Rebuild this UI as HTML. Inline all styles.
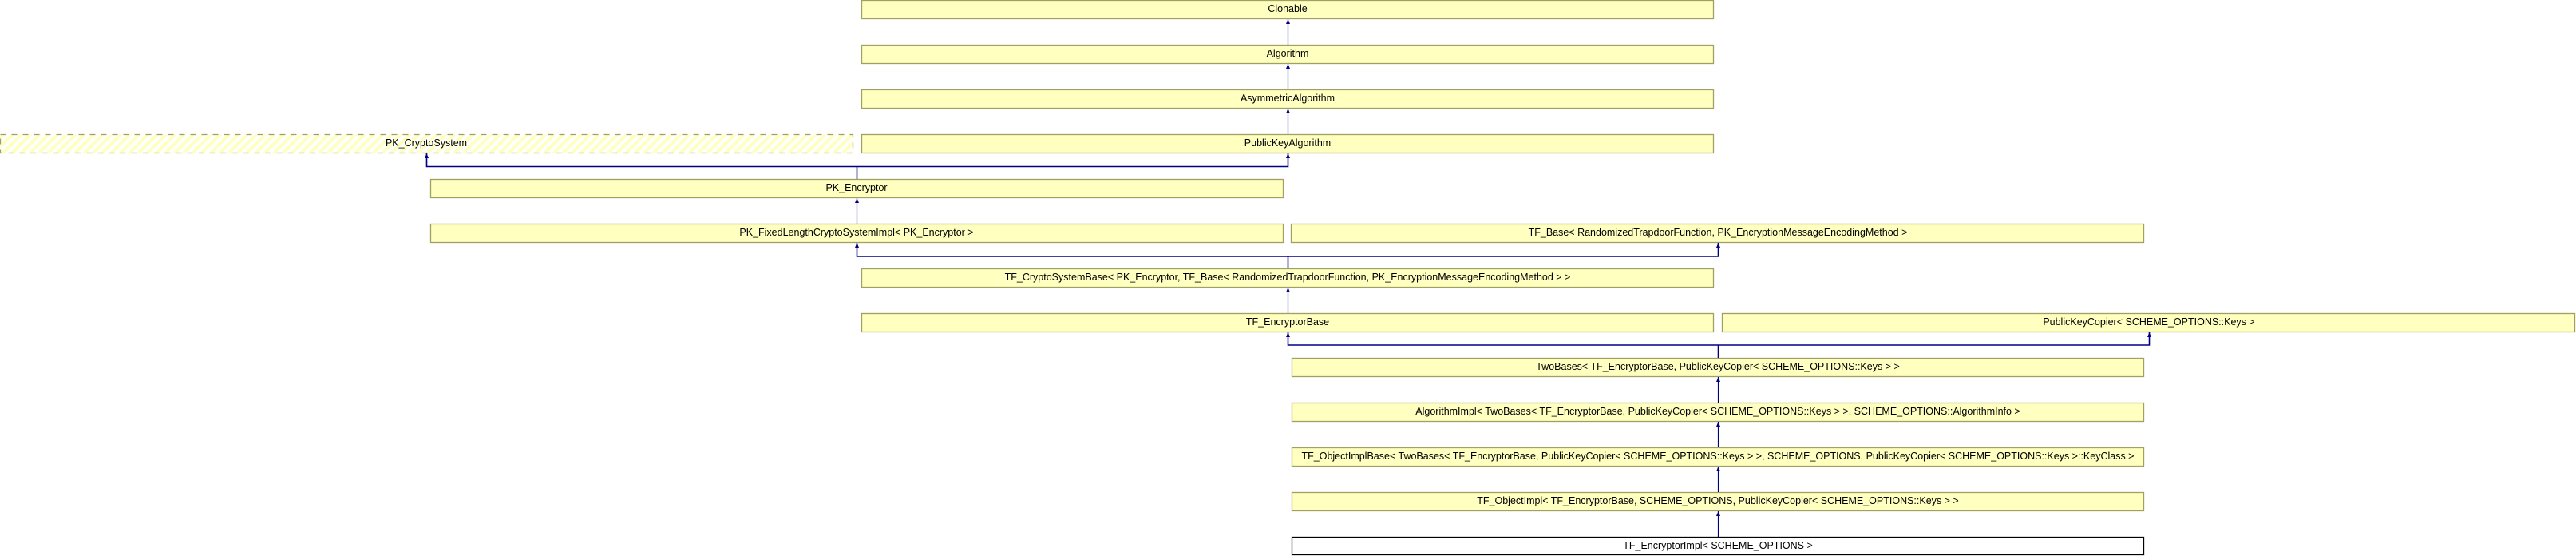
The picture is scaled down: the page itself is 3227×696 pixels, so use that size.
<!DOCTYPE html>
<html><head><meta charset="utf-8"><style>
html,body{margin:0;padding:0;background:#fff;}
svg{display:block;}
text{font-family:"Liberation Sans",sans-serif;font-size:12.5px;fill:#000;text-anchor:middle;}
</style></head><body>
<svg width="3227" height="696" viewBox="0 0 3227 696" xmlns="http://www.w3.org/2000/svg">
<defs>
<pattern id="h" width="8" height="8" patternUnits="userSpaceOnUse" patternTransform="rotate(45)">
<rect width="8" height="8" fill="#fff"/><rect width="4" height="8" fill="#ffffc0"/>
</pattern>
</defs>
<g fill="#ffffc0" stroke="#a0a060" stroke-width="1.3">
<rect x="1079.5" y="0.5" width="1067" height="23"/>
<rect x="1079.5" y="56.5" width="1067" height="23"/>
<rect x="1079.5" y="112.5" width="1067" height="23"/>
<rect x="1079.5" y="168.5" width="1067" height="23"/>
<rect x="0.5" y="168.5" width="1068" height="23" fill="url(#h)" stroke-dasharray="7,7"/>
<rect x="539.5" y="224.5" width="1068" height="23"/>
<rect x="539.5" y="280.5" width="1068" height="23"/>
<rect x="1617.5" y="280.5" width="1068" height="23"/>
<rect x="1079.5" y="336.5" width="1067" height="23"/>
<rect x="1079.5" y="392.5" width="1067" height="23"/>
<rect x="2157.5" y="392.5" width="1068" height="23"/>
<rect x="1618.5" y="448.5" width="1067" height="23"/>
<rect x="1618.5" y="504.5" width="1067" height="23"/>
<rect x="1618.5" y="560.5" width="1067" height="23"/>
<rect x="1618.5" y="616.5" width="1067" height="23"/>
<rect x="1618.5" y="672.5" width="1067" height="22" fill="#fff" stroke="#000"/>
</g>
<g fill="none" stroke="#000080" stroke-width="1.2">
<path d="M1613.5 56V24 M1613.5 112V80 M1613.5 168V136"/>
<path d="M1073.5 224V208.5 M534.5 192V208.5H1613.5V192" stroke-width="1.6"/>
<path d="M1073.5 280V248"/>
<path d="M1613.5 336V321 M1073.5 304V321H2152.5V304" stroke-width="1.6"/>
<path d="M1613.5 392V360"/>
<path d="M2152.5 448V432 M1613.5 416V432H2692.5V416" stroke-width="1.6"/>
<path d="M2152.5 504V472 M2152.5 560V528 M2152.5 616V584 M2152.5 672V640"/>
</g>
<g fill="#000080">
<path d="M1613.5 24l-2.5 6h5z M1613.5 80l-2.5 6h5z M1613.5 136l-2.5 6h5z M1613.5 192l-2.5 6h5z M534.5 192l-2.5 6h5z M1073.5 248l-2.5 6h5z M1073.5 304l-2.5 6h5z M2152.5 304l-2.5 6h5z M1613.5 360l-2.5 6h5z M1613.5 416l-2.5 6h5z M2692.5 416l-2.5 6h5z M2152.5 472l-2.5 6h5z M2152.5 528l-2.5 6h5z M2152.5 584l-2.5 6h5z M2152.5 640l-2.5 6h5z"/>
</g>
<text x="1613" y="15">Clonable</text>
<text x="1613" y="71">Algorithm</text>
<text x="1613" y="127">AsymmetricAlgorithm</text>
<text x="1613" y="183">PublicKeyAlgorithm</text>
<text x="534" y="183">PK_CryptoSystem</text>
<text x="1073" y="239">PK_Encryptor</text>
<text x="1073" y="295">PK_FixedLengthCryptoSystemImpl&lt; PK_Encryptor &gt;</text>
<text x="2152" y="295">TF_Base&lt; RandomizedTrapdoorFunction, PK_EncryptionMessageEncodingMethod &gt;</text>
<text x="1613" y="351">TF_CryptoSystemBase&lt; PK_Encryptor, TF_Base&lt; RandomizedTrapdoorFunction, PK_EncryptionMessageEncodingMethod &gt; &gt;</text>
<text x="1613" y="407">TF_EncryptorBase</text>
<text x="2692" y="407">PublicKeyCopier&lt; SCHEME_OPTIONS::Keys &gt;</text>
<text x="2152" y="463">TwoBases&lt; TF_EncryptorBase, PublicKeyCopier&lt; SCHEME_OPTIONS::Keys &gt; &gt;</text>
<text x="2152" y="519">AlgorithmImpl&lt; TwoBases&lt; TF_EncryptorBase, PublicKeyCopier&lt; SCHEME_OPTIONS::Keys &gt; &gt;, SCHEME_OPTIONS::AlgorithmInfo &gt;</text>
<text x="2152" y="575">TF_ObjectImplBase&lt; TwoBases&lt; TF_EncryptorBase, PublicKeyCopier&lt; SCHEME_OPTIONS::Keys &gt; &gt;, SCHEME_OPTIONS, PublicKeyCopier&lt; SCHEME_OPTIONS::Keys &gt;::KeyClass &gt;</text>
<text x="2152" y="631">TF_ObjectImpl&lt; TF_EncryptorBase, SCHEME_OPTIONS, PublicKeyCopier&lt; SCHEME_OPTIONS::Keys &gt; &gt;</text>
<text x="2152" y="687">TF_EncryptorImpl&lt; SCHEME_OPTIONS &gt;</text>
</svg>
</body></html>
